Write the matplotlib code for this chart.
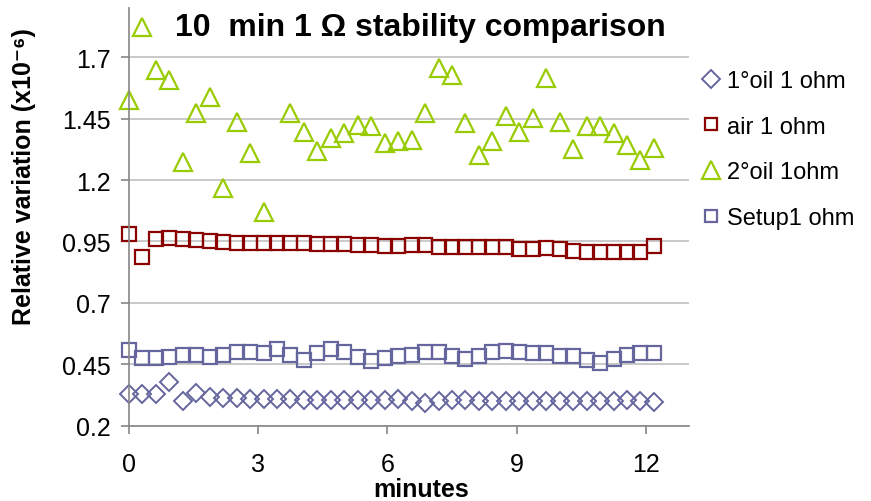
import numpy as np
import matplotlib
matplotlib.use("Agg")
import matplotlib.pyplot as plt

plt.rcParams['font.family'] = ['Liberation Sans', 'DejaVu Sans']

# time axis (minutes), one reading every 0.3125 min
minutes = np.arange(40) * 0.3125

oil1 = [0.329, 0.329, 0.329, 0.376, 0.299, 0.333, 0.317, 0.314, 0.314, 0.309,
        0.308, 0.308, 0.307, 0.306, 0.306, 0.306, 0.305, 0.305, 0.305, 0.306,
        0.309, 0.299, 0.292, 0.299, 0.303, 0.306, 0.299, 0.299, 0.299, 0.299,
        0.299, 0.299, 0.299, 0.299, 0.299, 0.299, 0.299, 0.306, 0.299, 0.296]

air = [0.980, 0.888, 0.960, 0.962, 0.960, 0.957, 0.951, 0.946, 0.944, 0.944,
       0.944, 0.943, 0.942, 0.942, 0.940, 0.941, 0.941, 0.937, 0.935, 0.930,
       0.932, 0.935, 0.935, 0.928, 0.926, 0.927, 0.927, 0.928, 0.928, 0.920,
       0.920, 0.922, 0.918, 0.913, 0.909, 0.907, 0.909, 0.907, 0.905, 0.932]

oil2 = [1.526, 1.823, 1.647, 1.606, 1.274, 1.472, 1.538, 1.167, 1.437, 1.308,
        1.068, np.nan, 1.471, 1.395, 1.320, 1.370, 1.391, 1.422, 1.418, 1.350,
        1.357, 1.362, 1.472, 1.655, 1.629, 1.432, 1.303, 1.357, 1.459, 1.395,
        1.452, 1.614, 1.435, 1.325, 1.421, 1.421, 1.391, 1.342, 1.282, 1.332]

setup1 = [0.508, 0.474, 0.476, 0.480, 0.486, 0.488, 0.479, 0.487, 0.498, 0.500,
          0.495, 0.511, 0.488, 0.467, 0.497, 0.512, 0.500, 0.481, 0.463, 0.474,
          0.482, 0.489, 0.502, 0.502, 0.482, 0.473, 0.485, 0.500, 0.505, 0.498,
          0.495, 0.495, 0.485, 0.485, 0.466, 0.455, 0.471, 0.489, 0.495, 0.495]

labels = ["1°oil 1 ohm", "air 1 ohm", "2°oil 1ohm", "Setup1 ohm"]
xticks = [0, 3, 6, 9, 12]
yticks = [0.2, 0.45, 0.7, 0.95, 1.2, 1.45, 1.7]

purple = "#66669e"
red = "#8b0000"
green = "#99cc00"

fig = plt.figure(figsize=(8.71, 5.02), dpi=100)
ax = fig.add_axes([0.148, 0.150, 0.643, 0.832])

ax.plot(minutes, oil1, ls="none", marker="D", ms=9.5, mfc="none", mec=purple, mew=1.4,
        label=labels[0], clip_on=False)
ax.plot(minutes, air, ls="none", marker="s", ms=9.6, mfc="none", mec=red, mew=1.6,
        label=labels[1], clip_on=False)
ax.plot(minutes, oil2, ls="none", marker="^", ms=13.5, mfc="none", mec=green, mew=1.6,
        label=labels[2], clip_on=False)
ax.plot(minutes, setup1, ls="none", marker="s", ms=9.6, mfc="none", mec=purple, mew=1.6,
        label=labels[3], clip_on=False)

ax.set_xlim(0, 13)
ax.set_ylim(0.2, 1.9)
ax.set_xticks(xticks)
ax.set_yticks(yticks)
ax.set_yticklabels([f"{v:g}" for v in yticks])
ax.grid(True, axis="y", color="#c0c0c0", lw=1.2)
ax.set_axisbelow(True)
for s in ["top", "right"]:
    ax.spines[s].set_visible(False)
for s in ["left", "bottom"]:
    ax.spines[s].set_color("#868686")
    ax.spines[s].set_linewidth(1.2)
ax.tick_params(axis="both", colors="#868686", labelcolor="black", labelsize=18, length=6, width=1.2)
ax.tick_params(axis="y", pad=7)
ax.tick_params(axis="x", pad=13)

fig.text(420 / 871, 1 - 28 / 502, "10  min 1 \u03a9 stability comparison",
         fontsize=23, fontweight="bold", ha="center", va="center")
fig.text(421 / 871, 1 - 490 / 502, "minutes", fontsize=18, fontweight="bold",
         ha="center", va="center")
fig.text(24 / 871, 1 - 177 / 502, "Relative variation (x10\u207b\u2076)", fontsize=18,
         fontweight="bold", rotation=90, ha="center", va="center")

ax.legend(loc="upper left", bbox_to_anchor=(702 / 871, 1 - 71 / 502),
          bbox_transform=fig.transFigure, frameon=False, fontsize=17,
          handlelength=0.8, handletextpad=0.25, labelspacing=1.0,
          markerscale=0.95, borderaxespad=0, borderpad=0)

fig.savefig("out.png", dpi=100)
